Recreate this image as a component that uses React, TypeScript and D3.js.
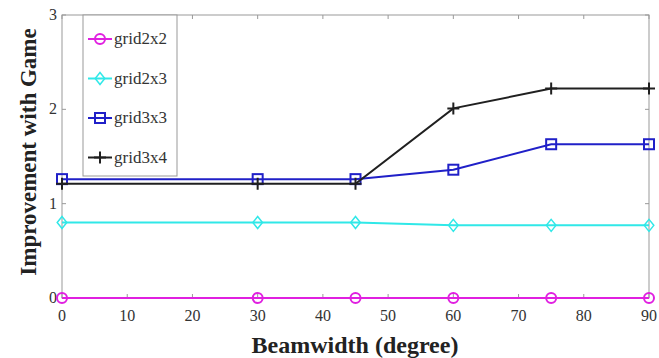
import { useEffect, useRef } from 'react';
import * as d3 from 'd3';

const beamwidths = [0, 30, 45, 60, 75, 90];
const grid2x2 = [0, 0, 0, 0, 0, 0];
const grid2x3 = [0.8, 0.8, 0.8, 0.77, 0.77, 0.77];
const grid3x3 = [1.26, 1.26, 1.26, 1.36, 1.63, 1.63];
const grid3x4 = [1.21, 1.21, 1.21, 2.01, 2.22, 2.22];
const xTicks = [0, 10, 20, 30, 40, 50, 60, 70, 80, 90];
const yTicks = [0, 1, 2, 3];

const seriesList = [
  { name: 'grid2x2', values: grid2x2, color: '#e020e0', marker: 'circle' },
  { name: 'grid2x3', values: grid2x3, color: '#30e8e8', marker: 'diamond' },
  { name: 'grid3x3', values: grid3x3, color: '#2020c8', marker: 'square' },
  { name: 'grid3x4', values: grid3x4, color: '#202020', marker: 'plus' },
];

export default function App() {
  const svgRef = useRef<SVGSVGElement>(null);
  const width = 659;
  const height = 358;

  useEffect(() => {
    if (!svgRef.current) return;
    const svg = d3.select(svgRef.current);
    svg.selectAll('*').remove();

    const margin = { top: 15, right: 10, bottom: 60, left: 62 };
    const x = d3.scaleLinear().domain([0, 90]).range([margin.left, width - margin.right]);
    const y = d3.scaleLinear().domain([0, 3]).range([height - margin.bottom, margin.top]);
    const font = 'Liberation Serif, DejaVu Serif, Times New Roman, serif';

    svg.append('rect')
      .attr('width', width).attr('height', height).attr('fill', '#fff');

    // frame
    svg.append('rect')
      .attr('x', x(0)).attr('y', y(3))
      .attr('width', x(90) - x(0)).attr('height', y(0) - y(3))
      .attr('fill', 'none').attr('stroke', '#999').attr('stroke-width', 1);

    // ticks (inward, mirrored)
    const tk = 4;
    xTicks.forEach(t => {
      svg.append('line').attr('x1', x(t)).attr('x2', x(t)).attr('y1', y(0)).attr('y2', y(0) - tk).attr('stroke', '#999');
      svg.append('line').attr('x1', x(t)).attr('x2', x(t)).attr('y1', y(3)).attr('y2', y(3) + tk).attr('stroke', '#999');
      svg.append('text')
        .attr('x', x(t)).attr('y', y(0) + 23)
        .attr('text-anchor', 'middle')
        .style('font-family', font).attr('font-size', 16).attr('fill', '#333')
        .text(t);
    });
    yTicks.forEach(t => {
      svg.append('line').attr('x1', x(0)).attr('x2', x(0) + tk).attr('y1', y(t)).attr('y2', y(t)).attr('stroke', '#999');
      svg.append('line').attr('x1', x(90)).attr('x2', x(90) - tk).attr('y1', y(t)).attr('y2', y(t)).attr('stroke', '#999');
      svg.append('text')
        .attr('x', x(0) - 5).attr('y', y(t) + 5)
        .attr('text-anchor', 'end')
        .style('font-family', font).attr('font-size', 16).attr('fill', '#333')
        .text(t);
    });

    const drawMarker = (g: any, cx: number, cy: number, marker: string, color: string) => {
      if (marker === 'circle') {
        g.append('circle').attr('cx', cx).attr('cy', cy).attr('r', 5)
          .attr('fill', 'none').attr('stroke', color).attr('stroke-width', 2);
      } else if (marker === 'diamond') {
        const s = 6;
        g.append('path').attr('d', `M${cx},${cy - s}L${cx + s * 0.8},${cy}L${cx},${cy + s}L${cx - s * 0.8},${cy}Z`)
          .attr('fill', 'none').attr('stroke', color).attr('stroke-width', 1.5);
      } else if (marker === 'square') {
        g.append('rect').attr('x', cx - 5).attr('y', cy - 5).attr('width', 10).attr('height', 10)
          .attr('fill', 'none').attr('stroke', color).attr('stroke-width', 2);
      } else {
        g.append('path').attr('d', `M${cx - 6},${cy}H${cx + 6}M${cx},${cy - 6}V${cy + 6}`)
          .attr('stroke', color).attr('stroke-width', 2);
      }
    };

    const line = d3.line<number>()
      .x((_, i) => x(beamwidths[i]))
      .y(d => y(d));

    seriesList.forEach(s => {
      const g = svg.append('g');
      g.append('path')
        .attr('d', line(s.values))
        .attr('fill', 'none')
        .attr('stroke', s.color)
        .attr('stroke-width', 2);
      s.values.forEach((v, i) => drawMarker(g, x(beamwidths[i]), y(v), s.marker, s.color));
    });

    // legend
    const lg = svg.append('g');
    lg.append('rect')
      .attr('x', 83).attr('y', y(3))
      .attr('width', 94).attr('height', 161)
      .attr('fill', '#fff').attr('stroke', '#999');
    seriesList.forEach((s, i) => {
      const ly = 39 + i * 39.5;
      lg.append('line').attr('x1', 88).attr('x2', 112).attr('y1', ly).attr('y2', ly)
        .attr('stroke', s.color).attr('stroke-width', 2);
      drawMarker(lg, 100, ly, s.marker, s.color);
      lg.append('text')
        .attr('x', 114).attr('y', ly + 5)
        .style('font-family', font).attr('font-size', 17).attr('fill', '#333')
        .text(s.name);
    });

    // axis labels
    svg.append('text')
      .attr('x', 355).attr('y', 353)
      .attr('text-anchor', 'middle')
      .style('font-family', font).attr('font-size', 24).attr('font-weight', 'bold').attr('fill', '#222')
      .text('Beamwidth (degree)');
    svg.append('text')
      .attr('transform', `translate(36, 152) rotate(-90)`)
      .attr('text-anchor', 'middle')
      .style('font-family', font).attr('font-size', 23).attr('font-weight', 'bold').attr('fill', '#222')
      .text('Improvement with Game');
  }, []);

  return (
    <svg
      ref={svgRef}
      width={width}
      height={height}
      style={{ position: 'absolute', left: 0, top: 0 }}
    />
  );
}
